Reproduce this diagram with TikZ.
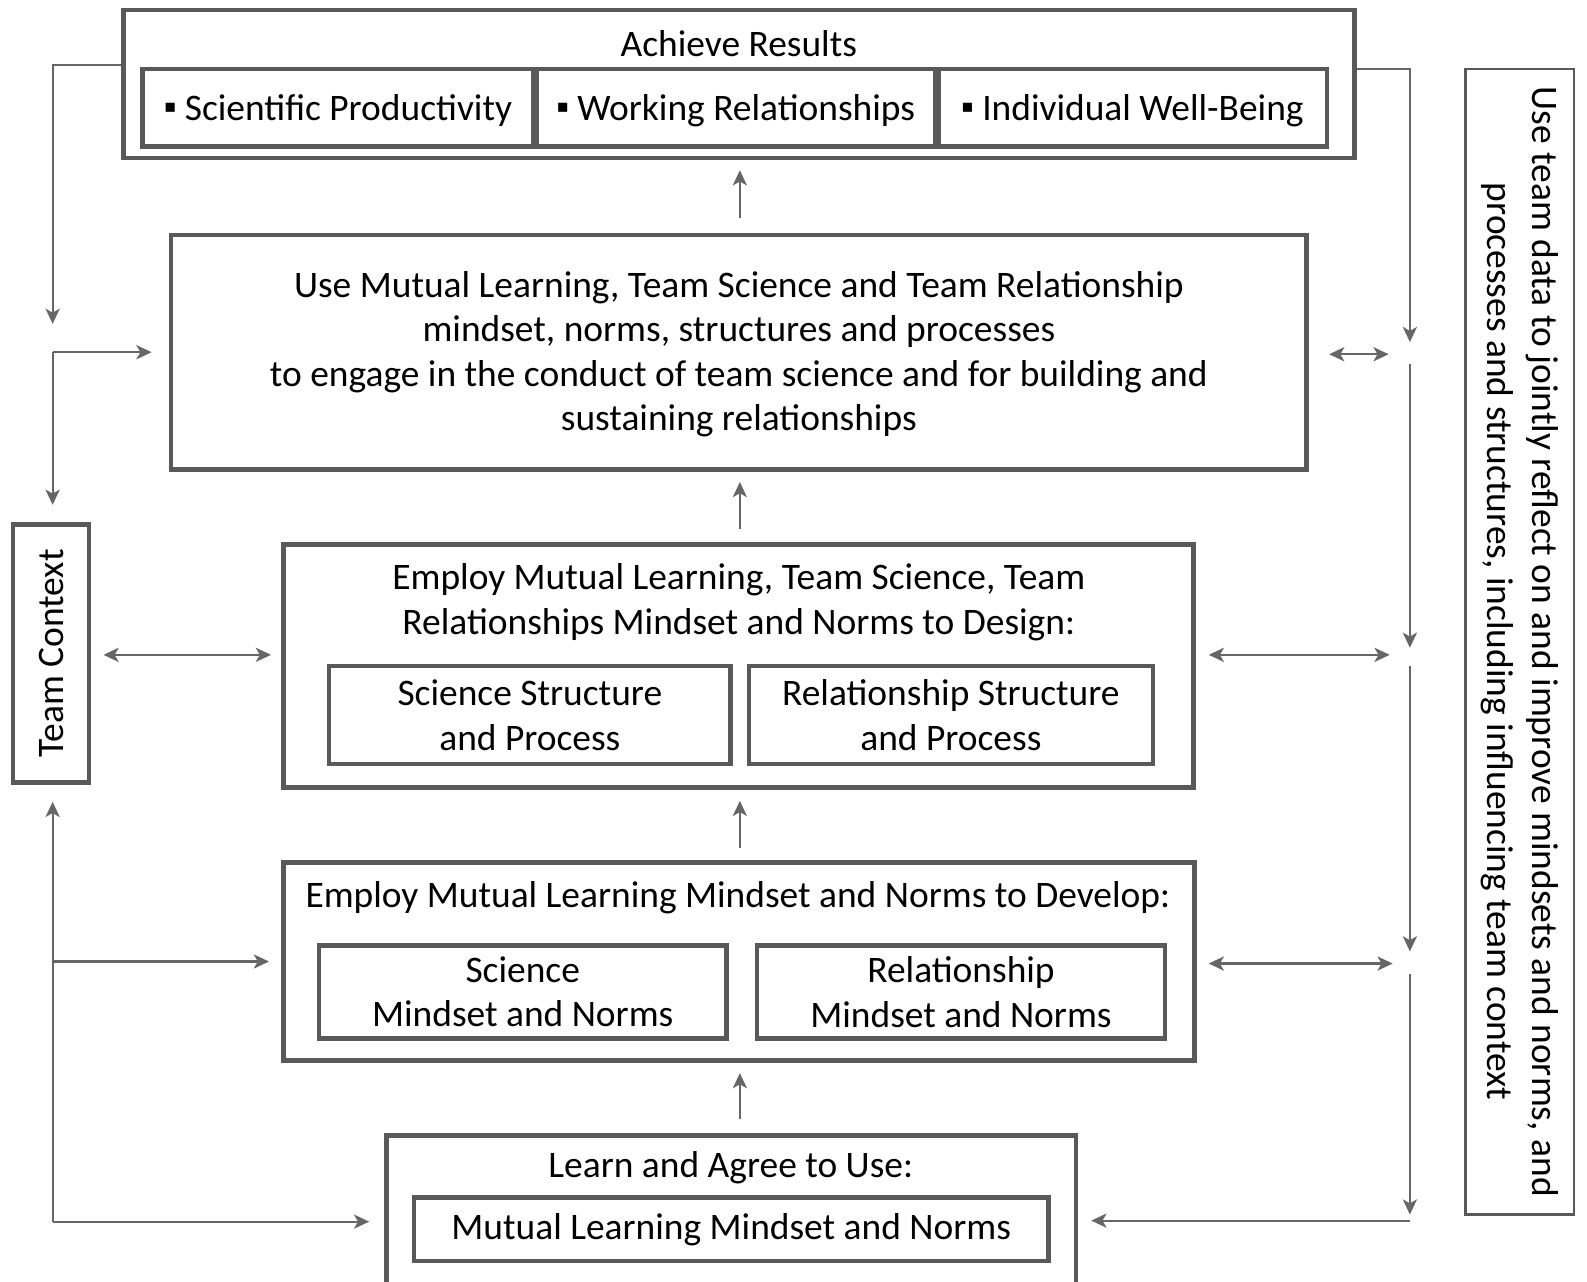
\documentclass[tikz,border=0pt]{standalone}
\usepackage{fontspec}
\setmainfont{Carlito}
\newfontfamily\dejavu{DejaVu Sans}
\usetikzlibrary{arrows.meta}
\definecolor{boxgray}{HTML}{595959}
\definecolor{arrgray}{HTML}{666666}
\newcommand{\sqbul}{\raisebox{8pt}{\dejavu\fontsize{18}{44}\selectfont ▪}}
\begin{document}
\begin{tikzpicture}[x=1pt,y=-1pt,
  every node/.style={font=\fontsize{37}{44}\selectfont, inner sep=0pt, align=center, text=black},
  boxwh/.style 2 args={draw=boxgray, line width=4.5pt, minimum width=#1, minimum height=#2},
  thinbox/.style 2 args={draw=boxgray, line width=2.5pt, minimum width=#1, minimum height=#2},
  conn/.style={draw=arrgray, line width=2.2pt, -{Stealth[length=15pt,width=14pt,inset=4pt]}},
  conn2/.style={draw=arrgray, line width=2.2pt, {Stealth[length=15pt,width=14pt,inset=4pt]}-{Stealth[length=15pt,width=14pt,inset=4pt]}}
]
\useasboundingbox (0,0) rectangle (1568,1266);
\clip (0,0) rectangle (1568,1266);

% Top box
\node[boxwh={1216}{146}] (top) at (730,83) {};
\node (toptitle) at (730,43) {Achieve Results};
\node[boxwh={386}{77}] (ra) at (334,106.5) {};
\node[boxwh={394}{77}] (rb) at (727,106.5) {};
\node[boxwh={384}{77}] (rc) at (1119,106.5) {};
\node (ta) at (334,109) {\sqbul{} Scientific Productivity};
\node (tb) at (727,109) {\sqbul{} Working Relationships};
\node (tc) at (1119,109) {\sqbul{} Individual Well-Being};

% Box 2
\node[boxwh={1122}{232}] (box2) at (730,348) {};
\node (t2) at (730,350) {Use Mutual Learning, Team Science and Team Relationship\\mindset, norms, structures and processes\\to engage in the conduct of team science and for building and\\sustaining relationships};

% Box 3
\node[boxwh={899}{240}] (box3) at (729.5,658) {};
\node (t3) at (730,595) {Employ Mutual Learning, Team Science, Team\\Relationships Mindset and Norms to Design:};
\node[boxwh={397}{97}] (s3) at (523.5,706.5) {Science Structure\\and Process};
\node[boxwh={399}{97}] (r3) at (939.5,706.5) {Relationship Structure\\and Process};

% Box 4
\node[boxwh={900}{196}] (box4) at (730,950) {};
\node (t4) at (729,887) {Employ Mutual Learning Mindset and Norms to Develop:};
\node[boxwh={403}{92}] (s4) at (516.5,980) {Science\\Mindset and Norms};
\node[boxwh={403}{92}] (r4) at (949.5,980) {Relationship\\Mindset and Norms};

% Box 5
\node[boxwh={681}{168}] (box5) at (722.5,1206) {};
\node (t5) at (722,1154) {Learn and Agree to Use:};
\node[boxwh={627}{63}] (m5) at (722.5,1214.5) {Mutual Learning Mindset and Norms};

% Team context
\node[boxwh={255}{75}, rotate=90] (team) at (50.5,645.5) {Team Context};

% Right text box
\node[thinbox={1132}{107}, rotate=-90] (note) at (1501.5,634) {Use team data to jointly reflect on and improve mindsets and norms, and\\processes and structures, including influencing team context};

% coordinates
\coordinate (ax) at (731,0);
\coordinate (L1) at (52,64);
\coordinate (L2) at (52,348);
\coordinate (L4) at (52,950);
\coordinate (L5) at (52,1207);
\coordinate (R1) at (1393,68);
\coordinate (R2) at (1393,350);
\coordinate (R3) at (1393,647);
\coordinate (R4) at (1393,952);
\coordinate (R5) at (1393,1206);
\coordinate (M3) at (0,647);

% centre up arrows
\draw[conn, shorten <=14pt, shorten >=10pt] (box2.north -| ax) -- (top.south -| ax);
\draw[conn, shorten <=13pt, shorten >=10pt] (box3.north -| ax) -- (box2.south -| ax);
\draw[conn, shorten <=12pt, shorten >=11pt] (box4.north -| ax) -- (box3.south -| ax);
\draw[conn, shorten <=14pt, shorten >=10pt] (box5.north -| ax) -- (box4.south -| ax);

% left connectors
\draw[conn, shorten >=28pt] (top.west |- L1) -- (L1) -- (L2);
\draw[conn, shorten >=17pt] (L2) -- (box2.west |- L2);
\draw[conn, shorten >=17pt] (L2) -- (L2 |- team.east);
\draw[conn2, shorten <=12pt, shorten >=10pt] (team.south |- M3) -- (box3.west |- M3);
\draw[conn, shorten >=17pt] (L5) -- (L5 |- team.west);
\draw[conn, shorten >=12pt] (L4) -- (box4.west |- L4);
\draw[conn, shorten >=15pt] (L5) -- (box5.west |- L5);

% right connectors
\draw[conn, shorten >=12pt] (top.east |- R1) -- (R1) -- (R2);
\draw[conn2, shorten <=20pt, shorten >=21pt] (box2.east |- R2) -- (R2);
\draw[conn, shorten <=10pt, shorten >=7pt] (R2) -- (R3);
\draw[conn2, shorten <=13pt, shorten >=20pt] (box3.east |- R3) -- (R3);
\draw[conn, shorten <=11pt, shorten >=12pt] (R3) -- (R4);
\draw[conn2, shorten <=12pt, shorten >=17pt] (box4.east |- R4) -- (R4);
\draw[conn, shorten <=10pt, shorten >=6pt] (R4) -- (R5);
\draw[conn, shorten >=13pt] (R5) -- (box5.east |- R5);
\end{tikzpicture}
\end{document}
